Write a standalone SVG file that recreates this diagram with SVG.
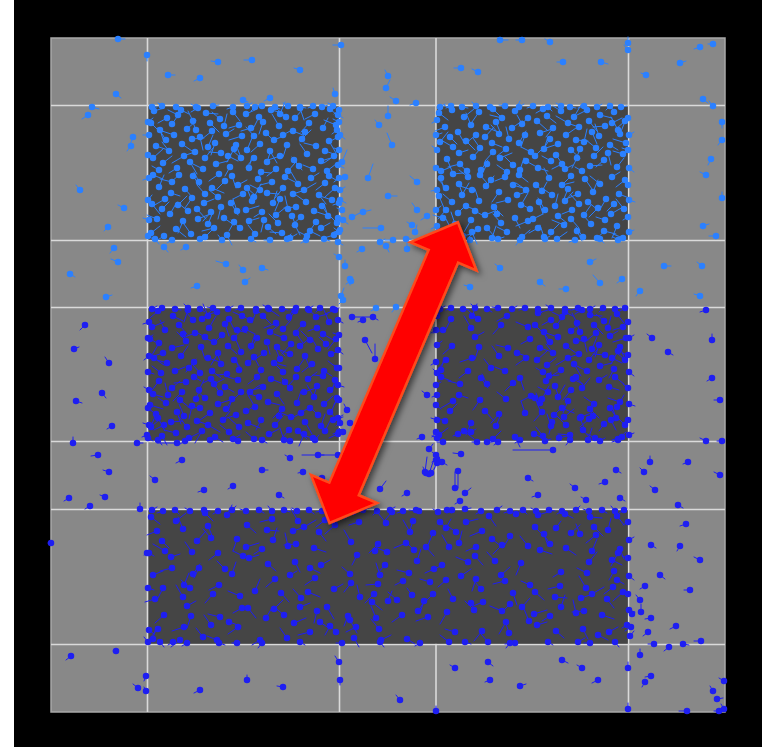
<svg xmlns="http://www.w3.org/2000/svg" width="767" height="747" viewBox="0 0 767 747">
<style>
.t{fill:none;stroke-width:1;stroke-linecap:round}
.d{fill:none;stroke-width:6.5;stroke-linecap:round;stroke-dasharray:0 999}
.grid line{stroke:#dadada;stroke-width:1.6}
.obs rect{fill:#454545}
.lt{stroke:#2b80ff}
.dk{stroke:#1e1ef2}
</style>
<defs>
<path id="a1" d="M6 5l10-3M33 4l8 4M58 7l12 1M85 6l7 9M12 24l4 12M39 23l9-8M64 25l-10 8M8 40l12 4M34 38l10 7M60 41l5-12M88 39l4 10M29 62l-8 5M55 63l-10-5M82 61l-5 9M3 17l8 8M24 18l5-7M80 50l10 5M57 52l8-10M76 20l3-12M18 34l-8-12M62 17l9 9M86 43l-7 13M48 24l-4-10"/>
<path id="a2" d="M19 12l-9 5M45 15l-5-10M72 13l-8-7M91 19l-10 3M26 29l-12-4M52 31l3 13M78 28l8-5M21 45l-7-9M47 46l-9 3M73 47l-12-1M15 57l9-7M42 56l7 12M68 58l12-3M93 52l-9-8M50 2l-7 4M67 37l-4 12M36 50l-12 7M11 64l-7-4M44 33l12-1M94 30l-13 4M30 9l-10-5M5 52l10-9"/>
<path id="b1" d="M10 3l-8 7M40 2l-4 12M69 4l-12 3M94 8l-9-4M17 22l-5-10M47 25l-10 4M74 27l-8 8M11 35l-7 12M38 33l-9-9M66 34l-12-5M93 44l-5-12M19 55l-10-3M46 54l-8 10M73 56l-4-12M13 65l-9-7M52 65l-7-8M79 66l-10 1M35 26l5 10M86 30l8-9M70 45l-7 12M45 12l-8-9M77 16l4 12"/>
<path id="b2" d="M25 8l10 5M54 11l9-8M81 11l5 10M4 19l12-5M31 17l8 9M61 20l7-12M89 22l10 3M24 40l12-3M53 39l4 12M80 38l9 8M6 50l10 7M33 48l7-10M60 50l12 4M86 52l8 9M27 63l10-4M64 63l9 7M91 62l-3-12M57 29l-9-5M41 60l7-9M2 31l9 5M15 45l-12 4M60 8l-5-12"/>
<path id="c1" d="M3 7l9 7M28 11l10-8M57 3l8 8M79 5l5-10M9 21l-10 4M35 19l-5-12M63 28l-8-9M89 29l-4 12M17 41l-12-7M44 42l-7-10M70 43l-9 7M95 46l-10-5M24 58l-12 3M51 58l-5 10M77 59l-8-8M5 65l10-4M45 64l7-10M84 64l4-12M60 16l5 12M23 47l9-3M14 31l7 7M49 31l9-10"/>
<path id="c2" d="M16 4l-8-5M43 6l-7 10M66 12l-12-3M92 12l-9 8M22 26l7 12M50 21l12 5M76 22l10-7M4 36l8-10M30 35l9 9M56 37l10 4M83 37l7-12M11 53l5 12M37 51l8-9M64 52l12-5M90 55l9 5M31 65l-9-8M71 66l-10-7M40 29l-10 8M86 18l-5-9M57 46l-8 9M73 33l-3-12"/>
<path id="pL" d="M118 39l7 0M147 55l0 6M168 75l7 0M116 94l5 4M92 107l7 2M88 115l-6 4M133 137l-3 8M131 146l-4 5M200 78l-6 3M218 62l-7-1M252 60l-8 0M300 70l-6-2M341 45l-8 0M386 88l4-8M388 76l-3-6M396 101l-6-4M416 103l-6 2M461 68l-7 0M478 72l-6-3M500 40l8 0M522 40l-6 0M550 42l-5-3M563 62l-6 0M601 62l7 2M628 43l0-6M628 50l-4-5M646 75l-5-2M680 63l6-2M700 47l-6 2M713 44l-5 0M703 99l5 4M713 106l-4-5M722 122l0 6M722 140l-4 5M711 159l-3 6M706 175l-6-3M722 198l0-6M703 226l6-2M716 236l-7 0M702 266l-5-4M664 266l7 0M640 291l-4 5M700 296l-6-2M243 100l5 2M270 98l-6 3M335 94l-2-6M80 190l-4-5M124 208l-6-3M108 227l-4 4M118 262l-7-3M114 248l-4 5M106 297l6-2M70 274l5 3M388 116l0-10M379 125l-4-5M392 145l-5-12M368 178l5-14M417 182l-7-6M388 196l9 0M352 217l8-4M363 212l8-2M381 228l-18 0M412 225l-5-3M415 232l2-7M417 210l-5-7M427 216l-6 4M393 240l-8 0M386 246l3 6M362 249l-5 3M406 239l5 0M407 249l0-6M345 266l0-6M350 279l0 6M341 296l3-8M380 242l5-3M343 300l-4 4M351 281l-5 3M338 115l5 3M337 130l-5 4M342 162l5-12M345 177l-6 2M340 200l6 3M342 210l-5-2M343 220l5 4M340 230l-6 2M338 242l5 3M339 257l-5-3M226 264l-10-3M243 270l-4-5M262 268l6 2M164 247l4 5M186 247l-5 3M245 282l5-4M197 286l-6 2M446 252l5 3M470 287l-6-2M540 282l5 4M566 289l-7 0M600 283l-7-8M622 279l-5 4M590 262l6-3M500 268l-5-4M396 307l-4 5M376 308l-5 3M152 107l5 0M162 106l-4-3M176 107l6 2M196 107l-5-3M213 106l6-1M233 107l-6 2M247 106l5-3M255 107l-4 4M262 106l-6-1M275 107l5 2M288 106l-5-3M300 107l6 1M313 106l-5 2M322 107l6-2M333 106l-5-3M339 110l-5 4M148 122l5-4M149 135l-6 0M148 155l5 3M149 178l-6 2M148 200l4-5M149 220l-6-2M148 236l5 3M339 122l-6-3M340 135l5 4M339 150l-5-2M338 165l6 3M339 178l-5 4M340 190l5-3M339 203l-6 2M338 218l5 3M339 232l-5-4M155 239l4 5M172 240l-5 3M200 239l6-2M222 240l-4-5M251 239l5 3M270 240l-6 0M287 239l4-5M306 240l-5 3M324 239l6 2M440 107l5-3M451 106l-5 2M462 107l6 1M476 106l-4-4M490 107l5 3M505 106l-6-1M519 107l5-3M533 106l-6 2M548 107l4 4M561 106l-5-3M570 107l6 1M584 106l-6 2M597 107l5-3M610 106l-4 4M621 107l6-1M437 120l-5 3M436 135l6-2M437 150l-5-4M436 168l5 3M437 190l-6 1M436 210l5-4M437 226l-6 3M628 118l-5 3M629 135l5-3M628 150l-6-2M629 168l5 4M628 185l-5-4M629 200l6 2M628 217l-5 3M629 232l5-2M445 239l5 3M470 240l-5 4M498 239l6-2M520 240l-4 5M545 239l5-3M575 240l-6 2M600 239l4 4M618 240l-5-3"/>
<path id="pD" d="M85 325l-5 5M74 349l5-2M109 363l-4-6M102 393l4 5M76 401l6 2M112 426l-5 3M147 435l-5 2M73 443l0-6M98 455l-7 1M109 472l-6-2M69 498l-5 3M105 497l-5-2M90 506l-5 3M137 443l6 0M177 443l-20 0M182 460l-6 3M140 509l0-6M51 543l-3 0M147 553l-3 2M71 656l-5 4M116 651l-3 0M138 688l-5-4M146 676l-2 5M146 691l-2-4M200 690l-6 3M247 680l0-5M283 687l-6-1M339 662l-4-6M340 680l0 5M400 700l-4-5M436 711l0-5M455 668l-5-3M488 662l5 4M490 680l-5 2M520 686l6-2M562 660l6 3M582 668l-5-3M598 680l-6 3M640 655l0-6M628 668l0-6M651 676l-6 1M645 682l-3 5M724 681l-5-3M713 691l-3-5M717 699l6-1M724 709l-3-5M719 711l-5 0M687 711l-8 0M628 709l0-6M654 644l-6 0M669 647l-5 4M683 644l6 1M701 641l-7 0M652 338l-5-4M668 352l5 3M706 310l-6 2M712 340l0-6M712 378l-5 3M720 400l-6 0M722 441l-5 0M706 441l-6-3M688 462l-5 2M720 475l-6-3M650 462l0-6M644 472l-4-4M655 490l-5-4M678 505l5 3M686 524l-6 2M680 546l-3 5M700 560l-6-3M651 545l5 3M660 575l5 4M645 586l-5 3M690 590l-6 0M640 600l-4-5M632 614l-6-4M641 612l0-8M651 618l-6 1M676 626l-6 3M648 632l-5 4M631 627l-6 4M352 317l20 0M373 317l5 3M363 320l-5 2M365 340l7 13M375 359l0-15M427 395l-5-4M422 437l-5 2M437 438l-5-2M443 442l-6 0M429 449l4-5M436 455l-4-3M437 459l-5 3M437 463l-3 6M442 462l5 3M461 454l-8-1M425 472l2-15M429 474l4-12M458 471l0 17M455 488l0-16M465 493l6-5M460 501l-5 3M407 493l-5 3M380 489l6-8M303 472l-5 1M322 478l-5 3M340 423l-4 3M347 410l-3-6M350 423l5 3M343 432l-4-4M318 455l6 0M338 455l-36 0M370 453l6-4M426 473l-3-6M431 473l4-5M436 460l0 5M458 434l-5 2M471 432l5-3M477 442l-5 0M487 442l5 0M498 442l-4 3M436 362l-5 3M437 373l-4-4M436 385l5-3M437 395l-5 2M436 405l5 4M437 420l-6-2M436 432l-4 5M437 345l5-4M436 330l-5 3M437 316l4-5M233 486l-5 3M262 470l6 0M290 458l-5-3M279 495l5 3M204 490l-6 2M155 480l-5-4M553 450l-40 0M528 478l5 3M575 488l-5-4M605 482l-6 2M616 470l5 3M586 500l-5-3M620 498l5 3M538 495l-6 2M152 309l5-3M162 308l-5 2M175 309l6 1M188 308l-4-4M200 309l5 3M213 308l-6-1M228 309l5-3M241 308l-6 2M256 309l4 4M268 308l-5-3M282 309l6 1M296 308l-6 2M308 309l5-3M320 308l-4 4M333 309l6-1M149 322l-6 2M148 338l5-3M149 356l-5 4M148 372l6 2M149 390l-5-3M148 408l5 4M149 425l-6-2M148 438l5 3M338 320l5 3M339 335l-6-2M338 350l5 4M339 368l-5-3M338 385l6 2M339 400l-5 4M338 418l5-3M339 432l-6 2M158 440l4 5M185 441l-5 3M210 440l6-2M238 441l-4-5M262 440l5 3M290 441l-6 0M315 440l4-5M440 309l5-3M451 308l-5 2M463 309l6 1M475 308l-4-4M487 309l5 3M498 308l-6-1M512 309l5-3M525 308l-6 2M538 309l4 4M551 308l-5-3M565 309l6 1M578 308l-6 2M590 309l5-3M603 308l-4 4M615 309l6-1M625 308l-5 3M628 322l-5 3M629 338l5-3M628 355l-6-2M629 372l5 4M628 388l-5-4M629 404l6 2M628 420l-5 3M629 435l5-2M520 440l-5 3M545 441l6-2M570 440l-4 5M600 441l5-3M618 440l-6 2M152 510l5-3M163 511l-6 2M175 510l4 4M190 511l-5-3M204 510l6 1M218 511l-5 3M232 510l4-4M246 511l-6-2M259 510l5 3M272 511l-4-5M284 510l6 2M297 511l-5-3M309 510l5 4M322 511l-6 1M336 510l4-4M350 511l-5 3M363 510l6-2M377 511l-4 4M390 510l5-3M403 511l-6 2M416 510l5 3M438 512l-5-3M447 510l4 3M452 510l-5 3M465 509l6-1M481 511l-5 3M497 510l5-4M510 511l-6 2M523 510l4 4M536 511l-5-3M549 510l6 1M562 511l-5 3M576 510l4-4M589 511l-6-2M602 510l5 3M615 511l-4-5M624 510l-5 3M149 553l5 3M148 588l6 2M149 630l5 4M148 642l-4-5M628 522l-5 3M629 540l5-3M628 558l-6-2M629 576l5 4M628 594l-5-4M629 610l6 2M627 625l-5 3M630 636l4-5M160 642l4 5M173 642l-5 3M187 643l-5 3M219 643l6 2M237 643l-5 0M262 643l-4 5M300 642l5 3M342 643l-6 0M380 642l4 5M420 643l-5 3M465 642l6 2M510 643l-4 5M548 642l5 3M590 643l-6 0M615 642l4 5"/>
<g id="ga1"><use href="#a1" class="t"/><use href="#a1" class="d"/></g>
<g id="ga2"><use href="#a2" class="t"/><use href="#a2" class="d"/></g>
<g id="gb1"><use href="#b1" class="t"/><use href="#b1" class="d"/></g>
<g id="gb2"><use href="#b2" class="t"/><use href="#b2" class="d"/></g>
<g id="gc1"><use href="#c1" class="t"/><use href="#c1" class="d"/></g>
<g id="gc2"><use href="#c2" class="t"/><use href="#c2" class="d"/></g>
<g id="A"><use href="#ga1"/><use href="#ga2"/></g>
<g id="B"><use href="#gb1"/><use href="#gb2"/></g>
<g id="C"><use href="#gc1"/><use href="#gc2"/></g>
<filter id="sh" x="-20%" y="-20%" width="140%" height="140%"><feDropShadow dx="3" dy="3" stdDeviation="3" flood-color="#000" flood-opacity="0.55"/></filter>
</defs>
<g id="background">
<rect x="0" y="0" width="767" height="747" fill="#fff"/>
<rect x="14" y="0" width="748" height="747" fill="#000"/>
<rect x="51" y="38" width="674" height="674" fill="#888" stroke="#a8a8a8" stroke-width="1.5"/>
</g>
<g id="grid" class="grid">
<line x1="147.5" y1="38" x2="147.5" y2="712"/>
<line x1="339.5" y1="38" x2="339.5" y2="712"/>
<line x1="436" y1="38" x2="436" y2="712"/>
<line x1="628.5" y1="38" x2="628.5" y2="712"/>
<line x1="51" y1="105.5" x2="725" y2="105.5"/>
<line x1="51" y1="240.5" x2="725" y2="240.5"/>
<line x1="51" y1="307.5" x2="725" y2="307.5"/>
<line x1="51" y1="441.5" x2="725" y2="441.5"/>
<line x1="51" y1="509.5" x2="725" y2="509.5"/>
<line x1="51" y1="644.5" x2="725" y2="644.5"/>
</g>
<g id="obstacles" class="obs">
<rect x="148.5" y="106.5" width="190.2" height="133.2"/>
<rect x="436.8" y="106.5" width="191" height="133.2"/>
<rect x="148.5" y="308.3" width="190.2" height="132.4"/>
<rect x="436.8" y="308.3" width="191" height="132.4"/>
<rect x="148.5" y="510.3" width="479.3" height="133.4"/>
</g>
<g id="agents-upper" class="lt">
<use href="#A" transform="translate(148,106)"/>
<use href="#B" transform="translate(340,106) scale(-1,1)"/>
<use href="#C" transform="translate(148,240) scale(1,-1)"/>
<use href="#A" transform="translate(340,240) scale(-1,-1)"/>
<use href="#C" transform="translate(436,106)"/>
<use href="#A" transform="translate(532,173) scale(1,-1)"/>
<use href="#B" transform="translate(532,240) scale(-1,-1)"/>
<use href="#C" transform="translate(628,173) scale(-1,1)"/>
<use href="#pL" class="t"/>
<use href="#pL" class="d"/>
</g>
<g id="agents-lower" class="dk">
<use href="#B" transform="translate(148,308)"/>
<use href="#C" transform="translate(340,375) scale(-1,-1)"/>
<use href="#A" transform="translate(244,375) scale(-1,1)"/>
<use href="#B" transform="translate(244,442) scale(1,-1)"/>
<use href="#gb2" transform="translate(532,308) scale(-1,1)"/>
<use href="#A" transform="translate(532,308)"/>
<use href="#gc1" transform="translate(436,442) scale(1,-1)"/>
<use href="#ga1" transform="translate(628,442) scale(-1,-1)"/>
<use href="#gb1" transform="translate(628,442) scale(-1,-1)"/>
<use href="#gc1" transform="translate(148,510)"/>
<use href="#ga2" transform="translate(340,577) scale(-1,-1)"/>
<use href="#gb1" transform="translate(340,577) scale(1,-1)"/>
<use href="#gc2" transform="translate(532,510) scale(-1,1)"/>
<use href="#ga1" transform="translate(532,510)"/>
<use href="#gb2" transform="translate(244,577) scale(-1,1)"/>
<use href="#gc2" transform="translate(244,644) scale(1,-1)"/>
<use href="#ga1" transform="translate(436,577) scale(-1,1)"/>
<use href="#gb1" transform="translate(436,577)"/>
<use href="#ga2" transform="translate(628,644) scale(-1,-1)"/>
<use href="#pD" class="t"/>
<use href="#pD" class="d"/>
</g>
<g id="arrow" filter="url(#sh)">
<polygon transform="translate(329.5,523) rotate(-66.88)" points="0,0 37,-36 37,-16 290,-16 290,-36 327,0 290,36 290,16 37,16 37,36" fill="#ff0000" stroke="#ff4a1a" stroke-width="2.5" stroke-linejoin="miter"/>
</g>
</svg>
